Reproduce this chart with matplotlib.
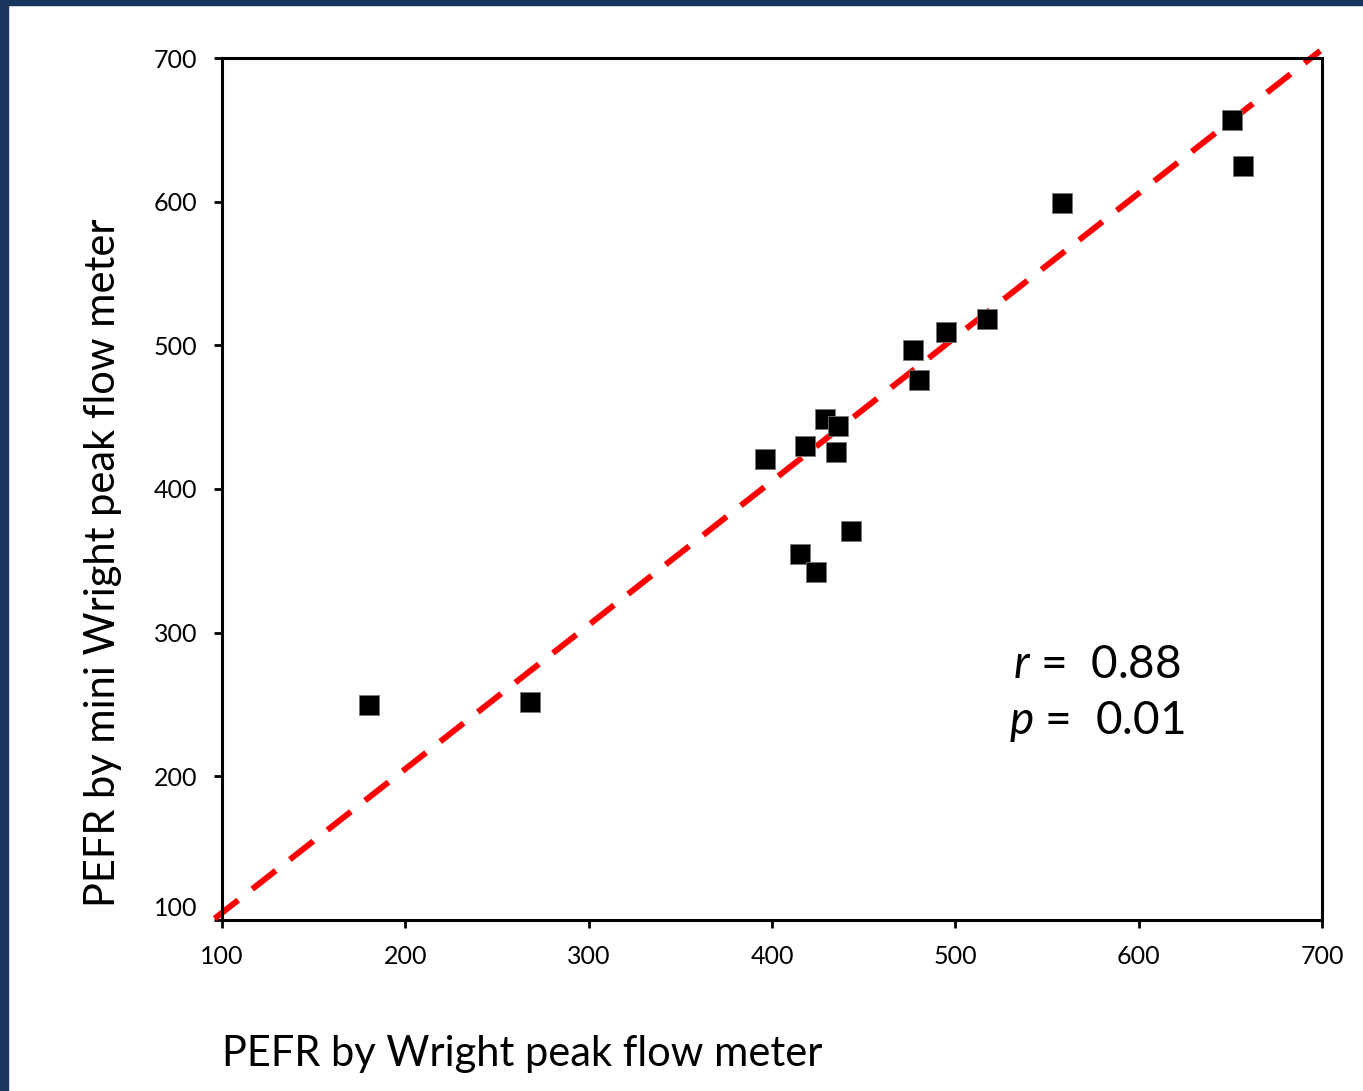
import matplotlib
matplotlib.use("Agg")
import matplotlib.pyplot as plt
from matplotlib.patches import Rectangle

wright = [180, 268, 396, 418, 429, 436, 435, 415, 424, 443, 477, 480, 495, 517, 558, 651, 657]
mini_wright = [250, 252, 421, 430, 449, 444, 426, 355, 342, 371, 497, 476, 509, 518, 599, 657, 625]
line_x = [96, 699]
line_y = [101, 705]
ticks = [100, 200, 300, 400, 500, 600, 700]

plt.rcParams['font.family'] = ['Lato', 'DejaVu Sans']
plt.rcParams['mathtext.fontset'] = 'custom'
plt.rcParams['mathtext.it'] = 'Lato:italic'
plt.rcParams['mathtext.rm'] = 'Lato'

W, H = 1363, 1091
fig = plt.figure(figsize=(W / 100, H / 100), dpi=100)
fig.patch.set_facecolor('white')
border = '#17355f'
fig.add_artist(Rectangle((0, 1 - 5 / H), 1, 5 / H, transform=fig.transFigure, color=border, zorder=10))
fig.add_artist(Rectangle((0, 0), 8 / W, 1, transform=fig.transFigure, color=border, zorder=10))

ax = fig.add_axes([222 / W, 1 - 920 / H, 1100 / W, 862 / H])
ax.set_xlim(100, 700)
ax.set_ylim(100, 700)
ax.set_xticks(ticks)
ax.set_yticks(ticks)
ax.tick_params(direction='out', length=6, width=2, labelsize=18)
ax.tick_params(axis='x', pad=12)
ax.tick_params(axis='y', pad=12)
for s in ax.spines.values():
    s.set_linewidth(2.2)

ax.plot(line_x, line_y, color='#ff0000', lw=4.3, dashes=(5, 3), clip_on=False, zorder=2)
ax.plot(wright, mini_wright, linestyle='none', marker='s', markersize=14,
        markerfacecolor='black', markeredgecolor='#777777', markeredgewidth=0.6, zorder=3)

ax.set_xlabel('PEFR by Wright peak flow meter', fontsize=30)
ax.xaxis.set_label_coords(0, -0.133)
ax.xaxis.label.set_ha('left')
ax.set_ylabel('PEFR by mini Wright peak flow meter', fontsize=30)
ax.yaxis.set_label_coords(-0.091, 0.414)

labs = ax.get_yticklabels()
labs[0].set_va('bottom')

ax.text(0.795, 0.296, r'$r$ =  0.88', transform=ax.transAxes, fontsize=33,
        ha='center', va='center')
ax.text(0.795, 0.230, r'$p$ =  0.01', transform=ax.transAxes, fontsize=33,
        ha='center', va='center')

fig.savefig('out.png', dpi=100, facecolor='white')
